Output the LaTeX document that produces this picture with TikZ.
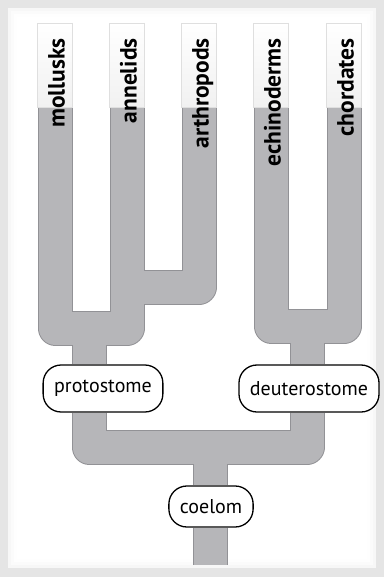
\documentclass[tikz,border=0pt]{standalone}
\usepackage{fontspec}
\setmainfont{PT Sans}
\usetikzlibrary{positioning}
\definecolor{branchGray}{RGB}{182,182,185}
\definecolor{branchEdge}{RGB}{146,146,150}
\definecolor{frameGray}{RGB}{229,229,229}
\pgfdeclarelayer{panel}
\pgfdeclarelayer{tree}
\pgfsetlayers{panel,tree,main}

\begin{document}
\begin{tikzpicture}[x=1pt,y=-1pt,
  branch/.style={line width=33pt,branchGray,line join=round},
  branchline/.style={line width=35pt,branchEdge,line join=round},
  tipfade/.style={top color=white,bottom color=gray!11,draw=gray!25,line width=0.6pt},
  taxon/.style={rotate=90,anchor=east,inner sep=0pt,text height=16pt,text depth=5pt,
    font=\bfseries\fontsize{23.5}{26}\selectfont},
  group/.style={draw=black,line width=1.3pt,fill=white,rounded corners=18pt,
    inner xsep=11pt,minimum height=47pt,font=\fontsize{20}{24}\selectfont}]
\useasboundingbox (0,0) rectangle (384,577);

\begin{pgfonlayer}{panel}
\fill[frameGray] (0,0) rectangle (384,577);
\fill[gray!6] (8,8) rectangle (376,568);
\fill[gray!3] (11,11) rectangle (373,565);
\fill[gray!1] (14,14) rectangle (370,562);
\fill[white] (17,17) rectangle (367,559);
\end{pgfonlayer}

\coordinate (m) at (55,23);
\coordinate (a) at (127,23);
\coordinate (r) at (199,23);
\coordinate (e) at (271,23);
\coordinate (c) at (344,23);
\coordinate (pj) at (89,328);
\coordinate (aj) at (163,287);
\coordinate (dj) at (307,326);
\coordinate (cj) at (210,447);
\coordinate (root) at (210,565);

\node[group] (proto) at (103,388.5) {protostome};
\node[group] (deut) at (309,388.5) {deuterostome};
\node[group,minimum height=41pt] (coel) at (211,506.5) {coelom};

\begin{pgfonlayer}{tree}
\foreach \s in {branchline,branch}{
  \draw[\s] (m) |- (pj) -| (a);
  \draw[\s] (a) |- (aj) -| (r);
  \draw[\s] (e) |- (dj) -| (c);
  \draw[\s] (pj) -- (pj |- proto.north);
  \draw[\s] (dj) -- (dj |- deut.north);
  \draw[\s] (pj |- proto.south) |- (cj) -| (dj |- deut.south);
  \draw[\s] (cj) -- (cj |- coel.north);
  \draw[\s] (cj |- coel.south) -- (root);
}
\foreach \t in {m,a,r,e,c}
  \path[tipfade] ([xshift=-17.5pt]\t) rectangle ([xshift=17.5pt,yshift=-84pt]\t);
\end{pgfonlayer}

\node[taxon] (mollusks) at (59,38) {mollusks};
\node[taxon] (annelids) at (131,38) {annelids};
\node[taxon] (arthropods) at (203,38) {arthropods};
\node[taxon] (echinoderms) at (275,38) {echinoderms};
\node[taxon] (chordates) at (348,38) {chordates};
\end{tikzpicture}
\end{document}
